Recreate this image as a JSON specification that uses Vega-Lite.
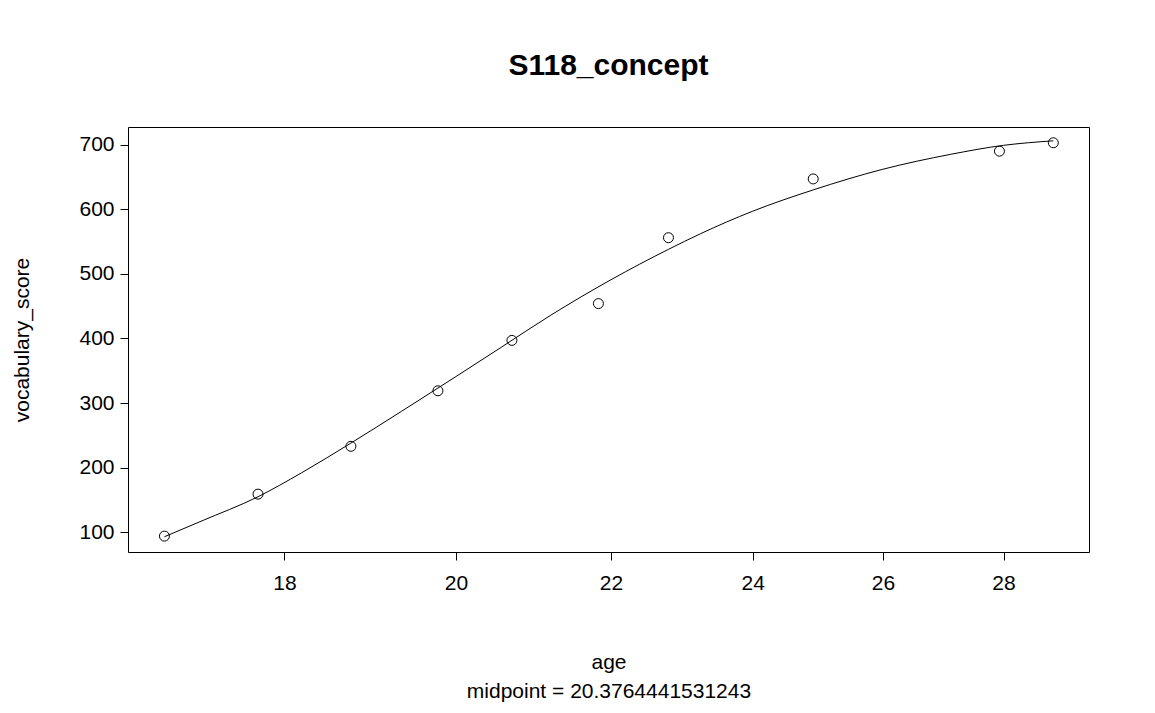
{
  "$schema": "https://vega.github.io/schema/vega-lite/v6.json",
  "width": 961,
  "height": 425,
  "autosize": "none",
  "padding": {"left": 128, "top": 127, "right": 66, "bottom": 161},
  "background": "white",
  "config": {"font": "Liberation Sans", "view": {"stroke": "black", "strokeWidth": 1}},
  "title": {"text": "S118_concept", "fontSize": 30, "fontWeight": "bold", "color": "black", "offset": 46, "font": "Liberation Sans"},
  "datasets": {
    "pts": [
      {"age": 16.72, "score": 94}, {"age": 17.71, "score": 159}, {"age": 18.75, "score": 233},
      {"age": 19.78, "score": 319}, {"age": 20.7, "score": 397}, {"age": 21.83, "score": 454},
      {"age": 22.79, "score": 556}, {"age": 24.91, "score": 647}, {"age": 27.93, "score": 690},
      {"age": 28.87, "score": 703}
    ],
    "fit": [
      {"age": 16.72, "score": 93}, {"age": 17.1, "score": 117}, {"age": 17.71, "score": 155},
      {"age": 18.19, "score": 192}, {"age": 18.75, "score": 238}, {"age": 19.34, "score": 287},
      {"age": 20, "score": 341}, {"age": 20.56, "score": 386}, {"age": 21.2, "score": 436},
      {"age": 22, "score": 491}, {"age": 22.79, "score": 538}, {"age": 23.24, "score": 562},
      {"age": 24, "score": 597}, {"age": 24.91, "score": 630}, {"age": 26, "score": 662},
      {"age": 27.1, "score": 685}, {"age": 28, "score": 699}, {"age": 28.87, "score": 706}
    ]
  },
  "encoding": {
    "x": {"field": "age", "type": "quantitative",
      "scale": {"type": "log", "domain": [16.35, 29.51], "nice": false},
      "axis": {"values": [18, 20, 22, 24, 26, 28], "domain": false, "grid": false, "tickColor": "black", "tickSize": 8,
        "labelFontSize": 21, "labelColor": "black", "labelPadding": 12, "format": "d",
        "title": ["age", "midpoint = 20.3764441531243"], "titleFontSize": 21, "titleFontWeight": "normal",
        "titleColor": "black", "titlePadding": 58, "titleLineHeight": 29}},
    "y": {"field": "score", "type": "quantitative",
      "scale": {"domain": [69.4, 727.4], "nice": false, "zero": false},
      "axis": {"values": [100, 200, 300, 400, 500, 600, 700], "domain": false, "grid": false, "tickColor": "black", "tickSize": 8,
        "labelFontSize": 21, "labelColor": "black", "labelPadding": 6,
        "title": "vocabulary_score", "titleFontSize": 21, "titleFontWeight": "normal", "titleColor": "black", "titlePadding": 46}}
  },
  "layer": [
    {"data": {"name": "fit"}, "mark": {"type": "line", "color": "black", "strokeWidth": 1, "interpolate": "monotone"}},
    {"data": {"name": "pts"}, "mark": {"type": "point", "shape": "circle", "size": 100, "color": "black", "strokeWidth": 1, "filled": false, "opacity": 1}}
  ]
}
